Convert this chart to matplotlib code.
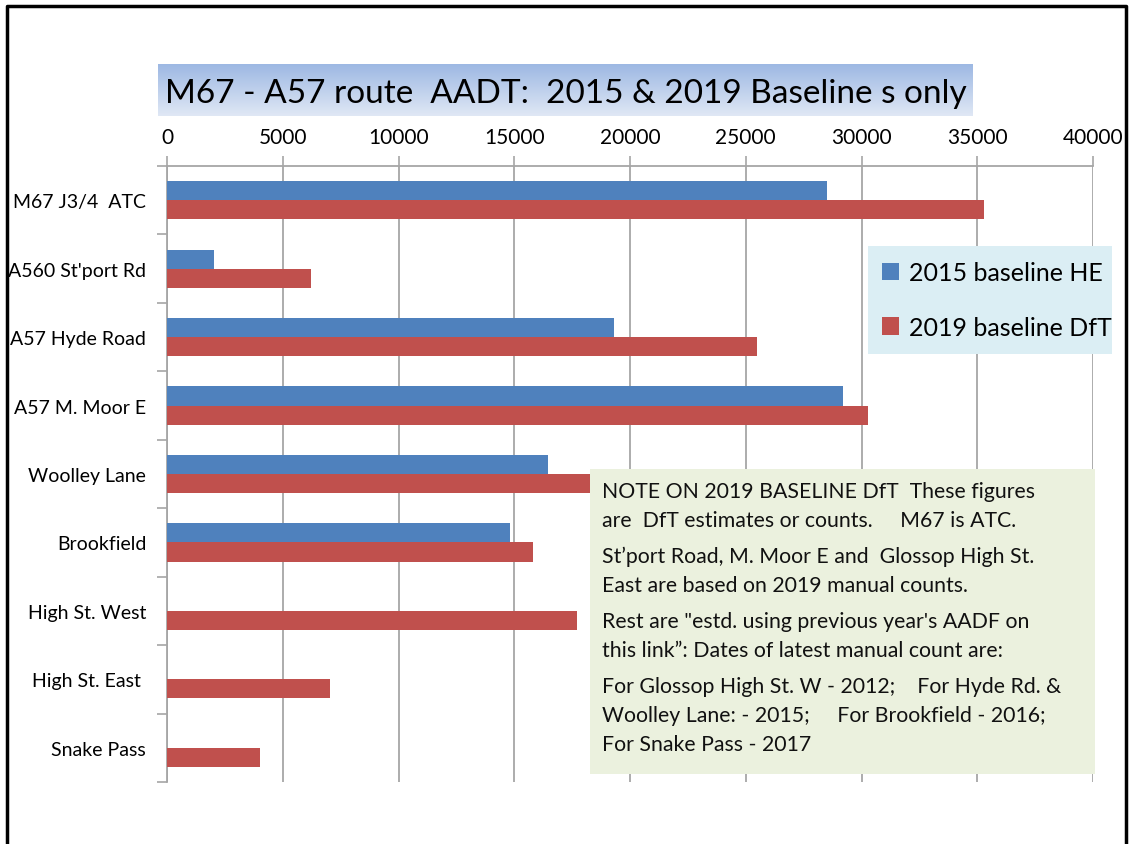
import numpy as np
import matplotlib
matplotlib.use('Agg')
import matplotlib.pyplot as plt
from matplotlib.patches import Rectangle
from matplotlib.lines import Line2D

plt.rcParams['font.family'] = ['Lato', 'DejaVu Sans']

# -------------------- data --------------------
categories = ['M67 J3/4  ATC', "A560 St'port Rd", 'A57 Hyde Road', 'A57 M. Moor E',
              'Woolley Lane', 'Brookfield', 'High St. West', 'High St. East ', 'Snake Pass']
he_2015 = [28500, 2050, 19300, 29200, 16450, 14800, np.nan, np.nan, np.nan]
dft_2019 = [35300, 6200, 25500, 30300, 19000, 15800, 17700, 7050, 4000]
x_ticks = [0, 5000, 10000, 15000, 20000, 25000, 30000, 35000, 40000]

title = 'M67 - A57 route  AADT:  2015 & 2019 Baseline s only'
series_names = ['2015 baseline HE', '2019 baseline DfT']
note_lines = [
    ['NOTE ON 2019 BASELINE DfT  These figures',
     'are  DfT estimates or counts.     M67 is ATC.'],
    ["St\u2019port Road, M. Moor E and  Glossop High St.",
     'East are based on 2019 manual counts.'],
    ['Rest are "estd. using previous year\'s AADF on',
     'this link\u201d: Dates of latest manual count are:'],
    ['For Glossop High St. W - 2012;    For Hyde Rd. &',
     'Woolley Lane: - 2015;     For Brookfield - 2016;',
     'For Snake Pass - 2017'],
]

BLUE = '#4F81BD'
RED = '#C0504D'
GRID = '#A6A6A6'

W, H = 1129, 845
fig = plt.figure(figsize=(W / 100, H / 100), dpi=100)

def fx(px):
    return px / W

def fy(py):
    return 1 - py / H

# -------------------- main axes --------------------
ax = fig.add_axes([fx(167), fy(783), fx(1093) - fx(167), fy(167) - fy(783)])
y = np.arange(len(categories))
bh = 0.28
ax.barh(y - bh / 2, he_2015, height=bh, color=BLUE, label=series_names[0], zorder=3)
ax.barh(y + bh / 2, dft_2019, height=bh, color=RED, label=series_names[1], zorder=3)

ax.set_xlim(0, 40000)
ax.set_ylim(len(categories) - 0.5, -0.5)
ax.xaxis.tick_top()
ax.set_xticks(x_ticks)
ax.set_xticklabels([str(v) for v in x_ticks])
ax.tick_params(axis='x', which='major', length=7, width=1.2, color=GRID,
               labelsize=15, pad=7, top=True, bottom=False)
ax.grid(axis='x', color=GRID, linewidth=1.3, zorder=0)

ax.set_yticks(y)
ax.set_yticklabels(categories)
ax.set_yticks(np.arange(-0.5, len(categories)), minor=True)
ax.tick_params(axis='y', which='major', length=0, labelsize=14, pad=15)
ax.tick_params(axis='y', which='minor', length=7, width=1.2, color=GRID)

for s in ['right', 'bottom']:
    ax.spines[s].set_visible(False)
for s in ['left', 'top']:
    ax.spines[s].set_color(GRID)
    ax.spines[s].set_linewidth(1.3)

# -------------------- legend --------------------
fig.patches.append(Rectangle((fx(868), fy(355)), fx(1112) - fx(868), fy(247) - fy(355),
                             transform=fig.transFigure, facecolor='#DBEEF4',
                             edgecolor='none', zorder=5))
handles, labels = ax.get_legend_handles_labels()
leg = fig.legend(handles, labels, loc='center left',
                 bbox_to_anchor=(fx(859), (fy(355) + fy(247)) / 2),
                 frameon=False, fontsize=18, handlelength=0.7, handleheight=0.7,
                 handletextpad=0.4, labelspacing=1.25)
leg.set_zorder(6)

# -------------------- note box --------------------
fig.patches.append(Rectangle((fx(590), fy(775)), fx(1095) - fx(590), fy(470) - fy(775),
                             transform=fig.transFigure, facecolor='#EBF1DE',
                             edgecolor='none', zorder=5))
ypix = 492
for para in note_lines:
    for line in para:
        fig.text(fx(602), fy(ypix), line, fontsize=15.3, va='center', ha='left',
                 color='#111111', zorder=6)
        ypix += 29
    ypix += 7

# -------------------- title with gradient --------------------
tax = fig.add_axes([fx(158), fy(117), fx(973) - fx(158), fy(65) - fy(117)])
grad = np.linspace(0, 1, 100).reshape(-1, 1)
top_c = np.array([0x9D, 0xB8, 0xE3]) / 255
bot_c = np.array([0xE0, 0xE8, 0xF5]) / 255
img = top_c[None, None, :] * (1 - grad[:, :, None]) + bot_c[None, None, :] * grad[:, :, None]
tax.imshow(img, aspect='auto', extent=[0, 1, 0, 1])
tax.set_axis_off()
tax.text(0.5, 0.45, title, ha='center', va='center', fontsize=24, color='black',
         transform=tax.transAxes)

# -------------------- slide border --------------------
fig.lines.append(Line2D([fx(7), fx(7), fx(1126), fx(1126)], [0, fy(7), fy(7), 0],
                        transform=fig.transFigure, color='black', linewidth=2.5))

fig.savefig('out.png', dpi=100)
